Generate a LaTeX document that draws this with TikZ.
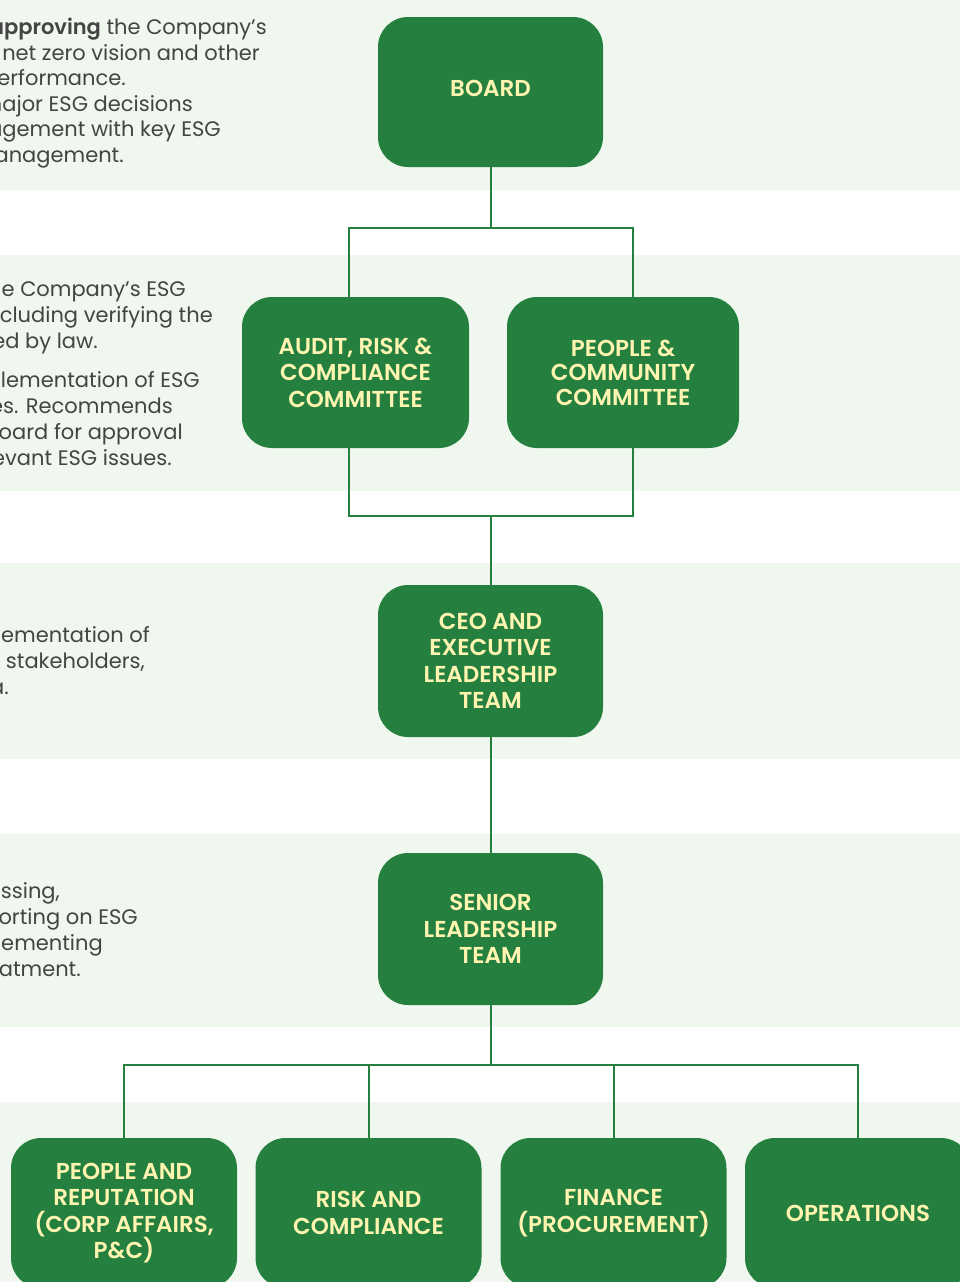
\documentclass[tikz,border=0pt]{standalone}
\usepackage{fontspec}
\IfFontExistsTF{Poppins SemiBold}{\setmainfont{Poppins}[BoldFont={Poppins SemiBold}]}{\setmainfont{Poppins}}
\usetikzlibrary{calc}
\definecolor{esggreen}{HTML}{258040}
\definecolor{bandbg}{HTML}{F0F7EE}
\definecolor{boxtext}{HTML}{FFF5B1}
\definecolor{bodytext}{HTML}{444444}
\begin{document}
\begin{tikzpicture}[x=1pt,y=-1pt,
  orgbox/.style={fill=esggreen, rounded corners=30pt, minimum height=150pt, minimum width=226pt, inner sep=0pt, text=boxtext, font=\fontsize{23}{26.5}\selectfont\bfseries, align=center},
  conn/.style={draw=esggreen, line width=2pt},
  band/.style={fill=bandbg},
  desc/.style={anchor=base east, inner sep=0pt, text=bodytext, font=\fontsize{21}{26}\selectfont}]
\useasboundingbox (0,0) rectangle (960,1282);
\clip (0,0) rectangle (960,1282);
% bands
\fill[band] (-2,-2) rectangle (962,190);
\fill[band] (-2,255) rectangle (962,491);
\fill[band] (-2,563) rectangle (962,759);
\fill[band] (-2,834) rectangle (962,1027);
\fill[band] (-2,1102) rectangle (962,1290);
% description texts (cut at the left edge)
\node[desc] (t1a) at (267,34) {\textbf{approving} the Company’s};
\node[desc] (t1b) at (260,60) {net zero vision and other};
\node[desc] (t1c) at (126,85) {performance.};
\node[desc] (t1d) at (193,111) {major ESG decisions};
\node[desc] (t1e) at (221,136) {engagement with key ESG};
\node[desc] (t1f) at (124,162) {management.};
\node[desc] (t2a) at (186,296) {the Company’s ESG};
\node[desc] (t2b) at (213,322) {including verifying the};
\node[desc] (t2c) at (98,348) {required by law.};
\node[desc] (t2d) at (200,387) {implementation of ESG};
\node[desc] (t2e) at (173,413) {policies. Recommends};
\node[desc] (t2f) at (183,439) {the Board for approval};
\node[desc] (t2g) at (172,465) {relevant ESG issues.};
\node[desc] (t3a) at (150,642) {implementation of};
\node[desc] (t3b) at (145,668) {key stakeholders,};
\node[desc] (t3c) at (9,694) {agenda.};
\node[desc] (t4a) at (60,898) {assessing,};
\node[desc] (t4b) at (138,924) {reporting on ESG};
\node[desc] (t4c) at (103,950) {implementing};
\node[desc] (t4d) at (81,976) {treatment.};
% boxes
\node[orgbox, minimum width=225pt] (board) at (490.5,92) {\raisebox{7pt}{BOARD}};
\node[orgbox, minimum width=227pt, minimum height=151pt] (aud) at (355.5,372.5) {AUDIT, RISK \&\\COMPLIANCE\\COMMITTEE};
\node[orgbox, minimum width=232pt, minimum height=151pt, font=\fontsize{23}{24.5}\selectfont\bfseries] (ppl) at (623,372.5) {PEOPLE \&\\COMMUNITY\\COMMITTEE};
\node[orgbox, minimum width=225pt, minimum height=152pt] (ceo) at (490.5,661) {CEO AND\\EXECUTIVE\\LEADERSHIP\\TEAM};
\node[orgbox, minimum width=225pt, minimum height=152pt] (snr) at (490.5,929) {SENIOR\\LEADERSHIP\\TEAM};
\node[orgbox] (b1) at (124,1213) {PEOPLE AND\\REPUTATION\\(CORP AFFAIRS,\\P\&C)};
\node[orgbox] (b2) at (368.5,1213) {RISK AND\\COMPLIANCE};
\node[orgbox] (b3) at (613.5,1213) {FINANCE\\(PROCUREMENT)};
\node[orgbox] (b4) at (858,1213) {OPERATIONS};
% connectors
\coordinate (xa) at (349,0);
\coordinate (xp) at (633,0);
\coordinate (j1) at (490.5,228);
\coordinate (j2) at (490.5,516);
\coordinate (j3) at (490.5,1065);
\draw[conn] (board.south) -- (j1);
\draw[conn] (aud.north -| xa) |- (j1) -| (ppl.north -| xp);
\draw[conn] (aud.south -| xa) |- (j2) -| (ppl.south -| xp);
\draw[conn] (j2) -- (ceo.north);
\draw[conn] (ceo.south) -- (snr.north);
\draw[conn] (snr.south) -- (j3);
\draw[conn] (b1.north) |- (j3) -| (b4.north);
\draw[conn] (b2.north) -- (b2.north |- j3);
\draw[conn] (b3.north) -- (b3.north |- j3);
\end{tikzpicture}
\end{document}
